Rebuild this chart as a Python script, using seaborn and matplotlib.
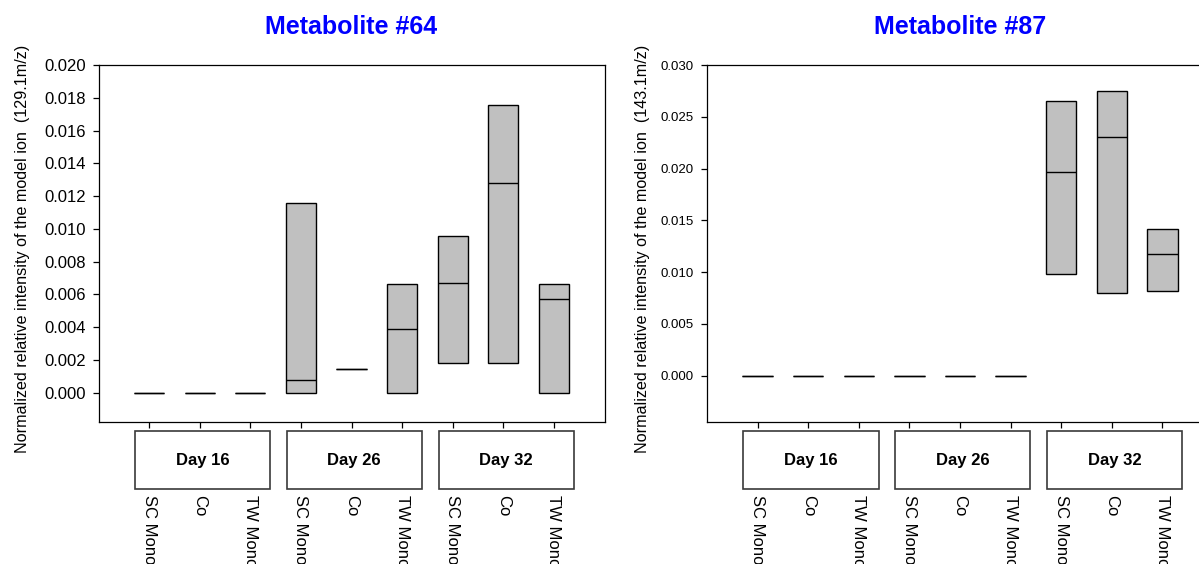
import numpy as np
import pandas as pd
import matplotlib
matplotlib.use("Agg")
import matplotlib.pyplot as plt
from matplotlib.patches import Rectangle
import seaborn as sns

# ---------------- data ----------------
days = ["Day 16", "Day 26", "Day 32"]
groups = ["SC Mono", "Co", "TW Mono"]

# Metabolite #64 (129.1 m/z): box bottom, median, box top per day/group
m64_low = [0.0, 0.0, 0.0, 0.0, 0.00143, 0.0, 0.00179, 0.00181, 0.0]
m64_med = [0.0, 0.0, 0.0, 0.00075, 0.00143, 0.00386, 0.00668, 0.01277, 0.00571]
m64_high = [0.0, 0.0, 0.0, 0.01160, 0.00143, 0.00662, 0.00959, 0.01755, 0.00664]

# Metabolite #87 (143.1 m/z)
m87_low = [0.0, 0.0, 0.0, 0.0, 0.0, 0.0, 0.00980, 0.00795, 0.00813]
m87_med = [0.0, 0.0, 0.0, 0.0, 0.0, 0.0, 0.01971, 0.02309, 0.01179]
m87_high = [0.0, 0.0, 0.0, 0.0, 0.0, 0.0, 0.02651, 0.02752, 0.01420]

titles = ["Metabolite #64", "Metabolite #87"]
ylabels = ["Normalized relative intensity of the model ion  (129.1m/z)",
           "Normalized relative intensity of the model ion  (143.1m/z)"]
m64_yticks = [0.000, 0.002, 0.004, 0.006, 0.008, 0.010, 0.012, 0.014, 0.016, 0.018, 0.020]
m87_yticks = [0.000, 0.005, 0.010, 0.015, 0.020, 0.025, 0.030]

# ---------------- styling ----------------
sns.set_theme(style="ticks")
plt.rcParams["font.family"] = ["Liberation Sans", "DejaVu Sans"]
plt.rcParams["axes.edgecolor"] = "black"
plt.rcParams["axes.linewidth"] = 0.9

keys = [f"{d}|{g}" for d in days for g in groups]


def build_frame(low, med, high):
    rows = []
    for k, lo, me, hi in zip(keys, low, med, high):
        # five values so that Q1 = low, median = med, Q3 = high
        for v in (lo, lo, me, hi, hi):
            rows.append({"cat": k, "val": v})
    return pd.DataFrame(rows)


fig = plt.figure(figsize=(11.99, 5.64), dpi=100)
ax_w = 506 / 1199
ax_h = 356.5 / 564
ax_b = 1 - 421.5 / 564
ax1 = fig.add_axes([98.5 / 1199, ax_b, ax_w, ax_h])
ax2 = fig.add_axes([707 / 1199, ax_b, ax_w, ax_h])

panels = [
    (ax1, build_frame(m64_low, m64_med, m64_high), (-0.00176, 0.020), m64_yticks, 12, -0.151),
    (ax2, build_frame(m87_low, m87_med, m87_high), (-0.00443, 0.030), m87_yticks, 9.5, -0.1265),
]

for i, (ax, df, ylim, yticks, ytsize, ylab_x) in enumerate(panels):
    sns.boxplot(data=df, x="cat", y="val", order=keys, ax=ax,
                color="#C0C0C0", saturation=1, width=0.6,
                whis=0, showcaps=False, showfliers=False,
                linecolor="black", linewidth=1.0)
    ax.set_xlim(-1, 9)
    ax.set_ylim(*ylim)
    ax.set_yticks(yticks)
    ax.set_yticklabels([f"{t:.3f}" for t in yticks])
    ax.set_xticks(range(len(keys)))
    ax.set_xticklabels([])
    ax.set_xlabel("")
    ax.tick_params(axis="both", direction="out", length=4.3, width=0.9, color="black")
    ax.tick_params(axis="y", labelsize=ytsize, pad=5, labelcolor="black")
    for s in ax.spines.values():
        s.set_visible(True)
        s.set_color("black")
        s.set_linewidth(0.9)

    ax.set_title(titles[i], color="#0000FF", fontsize=18, fontweight="bold", pad=22)
    ax.set_ylabel(ylabels[i], fontsize=11.6, color="black")
    ax.yaxis.set_label_coords(ylab_x, 0.485)
    ax.yaxis.label.set_verticalalignment("center")

    trans = ax.get_xaxis_transform()
    for j, d in enumerate(days):
        x0 = 3 * j - 0.28
        x1 = 3 * j + 2.39
        rect = Rectangle((x0, -0.189), x1 - x0, 0.162, transform=trans,
                         fill=False, edgecolor="#3a3a3a", linewidth=1.2, clip_on=False)
        ax.add_patch(rect)
        ax.text((x0 + x1) / 2, -0.108, d, transform=trans, ha="center", va="center",
                fontsize=12, fontweight="bold", color="black")
    for j, k in enumerate(keys):
        g = k.split("|")[1]
        ax.text(j, -0.206, g, transform=trans, rotation=270, ha="center", va="top",
                fontsize=12, color="black")

fig.savefig("out.png", dpi=100)
